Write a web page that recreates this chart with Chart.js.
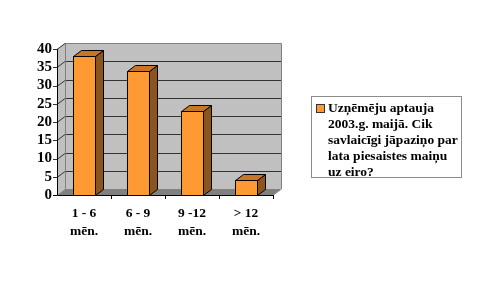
<!DOCTYPE html>
<html><head><meta charset="utf-8">
<script src="https://cdn.jsdelivr.net/npm/chart.js@4/dist/chart.umd.min.js"></script>
<style>
html,body{margin:0;padding:0;background:#fff;}
#wrap{position:relative;width:480px;height:281px;}
#legend{position:absolute;left:311px;top:96px;width:151px;height:82px;border:1px solid #8c8c8c;box-sizing:border-box;
font-family:"Liberation Serif","Times New Roman",serif;font-weight:bold;font-size:13.5px;line-height:16px;color:#000;padding:3px 0 0 16px;}
#legend .sw{position:absolute;left:4px;top:7px;width:9px;height:9px;background:#FF9933;border:1px solid #333;box-sizing:border-box;}
</style></head>
<body><div id="wrap"><canvas id="c" width="480" height="281"></canvas>
<div id="legend"><span class="sw"></span><span id="legtext"></span></div></div>
<script>
const categories = [["1 - 6","mēn."],["6 - 9","mēn."],["9 -12","mēn."],["> 12","mēn."]];
const seriesLabel = "Uzņēmēju aptauja 2003.g. maijā. Cik savlaicīgi jāpaziņo par lata piesaistes maiņu uz eiro?";
const seriesLines = ["Uzņēmēju aptauja","2003.g. maijā. Cik","savlaicīgi jāpaziņo par","lata piesaistes maiņu","uz eiro?"];
const values = [38, 34, 23, 4];
const yTicks = [0,5,10,15,20,25,30,35,40];

document.getElementById('legtext').innerHTML = seriesLines.join('<br>');

const DX = 8, DY = -6;
const threeD = {
  id:'threeD',
  beforeDatasetsDraw(chart){
    const ctx = chart.ctx, a = chart.chartArea, ys = chart.scales.y;
    ctx.save();
    ctx.fillStyle = '#c0c0c0';
    ctx.fillRect(a.left+DX, a.top+DY, a.right-a.left, a.bottom-a.top);
    ctx.beginPath();
    ctx.moveTo(a.left, a.top); ctx.lineTo(a.left+DX, a.top+DY);
    ctx.lineTo(a.left+DX, a.bottom+DY); ctx.lineTo(a.left, a.bottom); ctx.closePath();
    ctx.fillStyle='#c0c0c0'; ctx.fill();
    ctx.beginPath();
    ctx.moveTo(a.left, a.bottom); ctx.lineTo(a.right, a.bottom);
    ctx.lineTo(a.right+DX, a.bottom+DY); ctx.lineTo(a.left+DX, a.bottom+DY); ctx.closePath();
    ctx.fillStyle='#808080'; ctx.fill();
    ctx.strokeStyle='#333'; ctx.lineWidth=1;
    yTicks.forEach(v=>{
      const py = Math.round(ys.getPixelForValue(v))+0.5;
      if (v===0) return;
      ctx.beginPath();
      ctx.moveTo(a.left, py); ctx.lineTo(a.left+DX, py+DY); ctx.lineTo(a.right+DX, py+DY);
      ctx.stroke();
      ctx.beginPath(); ctx.moveTo(a.left-4, py); ctx.lineTo(a.left, py); ctx.stroke();
    });
    ctx.strokeStyle='#808080';
    ctx.beginPath();
    ctx.moveTo(a.left+DX+0.5, a.bottom+DY); ctx.lineTo(a.left+DX+0.5, a.top+DY+0.5);
    ctx.lineTo(a.right+DX+0.5, a.top+DY+0.5); ctx.lineTo(a.right+DX+0.5, a.bottom+DY);
    ctx.lineTo(a.right+0.5, a.bottom);
    ctx.stroke();
    ctx.strokeStyle='#000';
    ctx.beginPath();
    ctx.moveTo(a.left+0.5, a.top); ctx.lineTo(a.left+0.5, a.bottom+0.5);
    ctx.lineTo(a.right, a.bottom+0.5);
    ctx.moveTo(a.left-4, a.bottom+0.5); ctx.lineTo(a.left, a.bottom+0.5);
    ctx.stroke();
    const n = categories.length; const w=(a.right-a.left)/n;
    for(let i=1;i<=n;i++){
      const px=Math.round(a.left+i*w)+0.5;
      ctx.beginPath(); ctx.moveTo(px,a.bottom); ctx.lineTo(px,a.bottom+4); ctx.stroke();
    }
    ctx.restore();
  },
  afterDatasetsDraw(chart){
    const ctx = chart.ctx;
    const meta = chart.getDatasetMeta(0);
    ctx.save();
    ctx.strokeStyle='#000'; ctx.lineWidth=1; ctx.lineJoin='round';
    meta.data.forEach(bar=>{
      const p = bar.getProps(['x','y','base','width'], true);
      const l = Math.round(p.x - p.width/2)+0.5, r = Math.round(p.x + p.width/2)+0.5;
      const t = Math.round(p.y)+0.5, b = Math.round(p.base)+0.5;
      ctx.beginPath();
      ctx.moveTo(r,t); ctx.lineTo(r+DX,t+DY); ctx.lineTo(r+DX,b+DY); ctx.lineTo(r,b); ctx.closePath();
      ctx.fillStyle='#8a5520'; ctx.fill(); ctx.stroke();
      ctx.beginPath();
      ctx.moveTo(l,t); ctx.lineTo(r,t); ctx.lineTo(r+DX,t+DY); ctx.lineTo(l+DX,t+DY); ctx.closePath();
      ctx.fillStyle='#c87526'; ctx.fill(); ctx.stroke();
      ctx.strokeRect(l,t,r-l,b-t);
    });
    ctx.restore();
  }
};

new Chart(document.getElementById('c'), {
  type:'bar',
  data:{labels:categories, datasets:[{label:seriesLabel, data:values, backgroundColor:'#FF9933', borderWidth:0,
    barPercentage:0.41, categoryPercentage:1}]},
  options:{
    responsive:false, animation:false,
    layout:{padding:{left:0, top:49, right:207, bottom:0}},
    plugins:{legend:{display:false}, tooltip:{enabled:false}},
    scales:{
      x:{grid:{display:false, drawTicks:false, tickLength:0}, border:{display:false},
        ticks:{color:'#000', padding:10, autoSkip:false, font:{family:'Liberation Serif', weight:'bold', size:13.5, lineHeight:1.33}, maxRotation:0},
        afterFit(s){s.height=86;}},
      y:{min:0,max:40, grid:{display:false, drawTicks:false, tickLength:0}, border:{display:false},
        ticks:{stepSize:5, autoSkip:false, color:'#000', padding:5, font:{family:'Liberation Serif', weight:'bold', size:15}},
        afterFit(s){s.width=57;}}
    }
  },
  plugins:[threeD]
});
</script></body></html>
